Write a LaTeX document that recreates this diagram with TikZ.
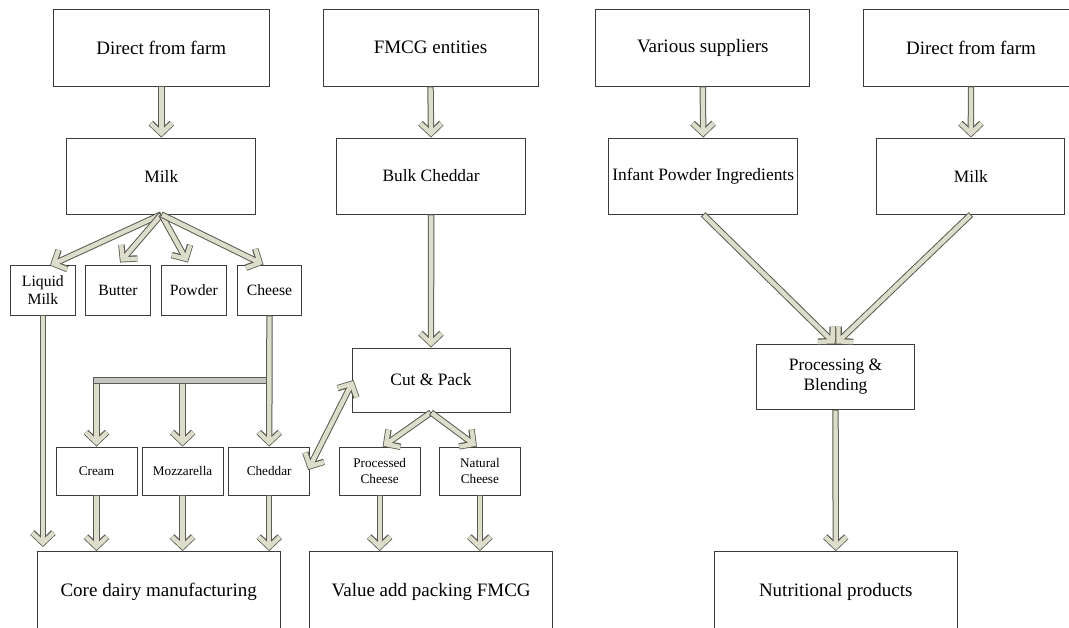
\documentclass[tikz,border=0pt]{standalone}
\usepackage{fontspec}
\setmainfont{Liberation Serif}
\usetikzlibrary{arrows.meta,calc}
\definecolor{arrfill}{HTML}{DDDDCC}
\definecolor{arrline}{HTML}{5A5A50}
\definecolor{boxline}{HTML}{3C3C3C}
\definecolor{bargray}{HTML}{C4C4C4}
\tikzset{
  box/.style={draw=boxline, line width=0.9pt, fill=white, inner sep=0pt, align=center, anchor=center},
  bigtxt/.style={font=\fontsize{19}{22}\selectfont},
  midtxt/.style={font=\fontsize{17.4}{20}\selectfont},
  smltxt/.style={font=\fontsize{15.7}{17.5}\selectfont},
  tinytxt/.style={font=\fontsize{13.2}{15.5}\selectfont},
  flow/.style={draw=arrfill, line width=4.4pt,
    -{Straight Barb[sharp,length=10pt,width=21pt]},
    shorten >=1.1pt, shorten <=0.9pt,
    preaction={draw=arrline, line width=6.4pt, shorten >=0pt, shorten <=0pt}},
  flowboth/.style={draw=arrfill, line width=4.4pt,
    {Straight Barb[sharp,length=10pt,width=21pt]}-{Straight Barb[sharp,length=10pt,width=21pt]},
    shorten >=1.1pt, shorten <=1.1pt,
    preaction={draw=arrline, line width=6.4pt, shorten >=0pt, shorten <=0pt}},
}
\begin{document}
\begin{tikzpicture}[x=1pt,y=-1pt]
\clip (0,0) rectangle (1069,628);
\useasboundingbox (0,0) rectangle (1069,628);
\fill[white] (0,0) rectangle (1069,628);

% top row
\node[box,bigtxt,minimum width=216,minimum height=77] (dfA) at (161.3,47.5) {Direct from farm};
\node[box,bigtxt,minimum width=215,minimum height=77] (fmcg) at (430.5,47.5) {FMCG entities};
\node[box,bigtxt,minimum width=214,minimum height=77] (vars) at (702.8,47.5) {Various suppliers};
\node[box,bigtxt,minimum width=216,minimum height=77] (dfB) at (971,47.5) {Direct from farm};

% second row
\node[box,midtxt,minimum width=189,minimum height=76] (milkA) at (161.3,176) {Milk};
\node[box,midtxt,minimum width=189,minimum height=76] (bulk) at (431.1,176) {Bulk Cheddar};
\node[box,midtxt,minimum width=189,minimum height=76] (infant) at (703.2,176) {Infant Powder Ingredients};
\node[box,midtxt,minimum width=188,minimum height=76] (milkB) at (970.9,176) {Milk};

% third row
\node[box,smltxt,minimum width=64.5,minimum height=50] (liq) at (42.9,290) {Liquid\\Milk};
\node[box,smltxt,minimum width=64.5,minimum height=50] (butter) at (118,290) {Butter};
\node[box,smltxt,minimum width=64.5,minimum height=50] (powder) at (193.9,290) {Powder};
\node[box,smltxt,minimum width=64.5,minimum height=50] (cheese) at (269.5,290) {Cheese};

% middle boxes
\node[box,midtxt,minimum width=158,minimum height=64] (cut) at (431,380) {Cut \& Pack};
\node[box,midtxt,minimum width=157.6,minimum height=64.6] (procb) at (835.5,377) {Processing \&\\Blending};

% small row
\node[box,tinytxt,minimum width=81,minimum height=48] (cream) at (96.5,471) {Cream};
\node[box,tinytxt,minimum width=81,minimum height=48] (mozz) at (182.6,471) {Mozzarella};
\node[box,tinytxt,minimum width=81,minimum height=48] (cheddar) at (269.2,471) {Cheddar};
\node[box,tinytxt,minimum width=81,minimum height=48] (proc) at (379.7,471) {Processed\\Cheese};
\node[box,tinytxt,minimum width=81,minimum height=48] (nat) at (479.9,471) {Natural\\Cheese};

% bottom row
\node[box,bigtxt,minimum width=243,minimum height=80] (core) at (158.7,591.5) {Core dairy manufacturing};
\node[box,bigtxt,minimum width=243,minimum height=80] (value) at (431.2,591.5) {Value add packing FMCG};
\node[box,bigtxt,minimum width=243,minimum height=80] (nutri) at (835.8,591.5) {Nutritional products};

% arrows top
\draw[flow] (dfA.south) -- (milkA.north);
\draw[flow] (fmcg.south) -- (bulk.north);
\draw[flow] (vars.south) -- (infant.north);
\draw[flow] (dfB.south) -- (milkB.north);

% milk fan
\draw[flow] (milkA.south) -- ($(liq.north)+(7,1)$);
\draw[flow] (milkA.south) -- ($(butter.north)+(2,-2)$);
\draw[flow] (milkA.south) -- ($(powder.north)+(-6,-2)$);
\draw[flow] (milkA.south) -- ($(cheese.north)+(-6,0)$);

% cheese branching
\coordinate (barL) at (93.5,380.5);
\coordinate (barR) at (270,380.5);
\draw[flow] (cream.north |- barL) -- (cream.north);
\draw[flow] (mozz.north |- barL) -- (mozz.north);
\filldraw[fill=bargray, draw=arrline, line width=0.9pt] ($(barL)+(0,-2.6)$) rectangle ($(barR)+(0,2.6)$);
\draw[flow] (cheese.south) -- (cheddar.north);

% bulk cheddar / cut & pack
\draw[flow] (bulk.south) -- (cut.north);
\draw[flowboth] ($(cheddar.east)+(-2,-1)$) -- ($(cut.west)+(2,0)$);
\draw[flow] (cut.south) -- ($(proc.north)+(3,0)$);
\draw[flow] (cut.south) -- ($(nat.north)+(-3,0)$);

% to bottom boxes
\draw[flow] (liq.south) -- ($(liq.south |- core.north)+(0,-4)$);
\draw[flow] (cream.south) -- (cream.south |- core.north);
\draw[flow] (mozz.south) -- (mozz.south |- core.north);
\draw[flow] (cheddar.south) -- (cheddar.south |- core.north);
\draw[flow] (proc.south) -- (proc.south |- value.north);
\draw[flow] (nat.south) -- (nat.south |- value.north);

% right side
\draw[flow] (infant.south) -- (procb.north);
\draw[flow] (milkB.south) -- (procb.north);
\draw[flow] (procb.south) -- (nutri.north);
\end{tikzpicture}
\end{document}
